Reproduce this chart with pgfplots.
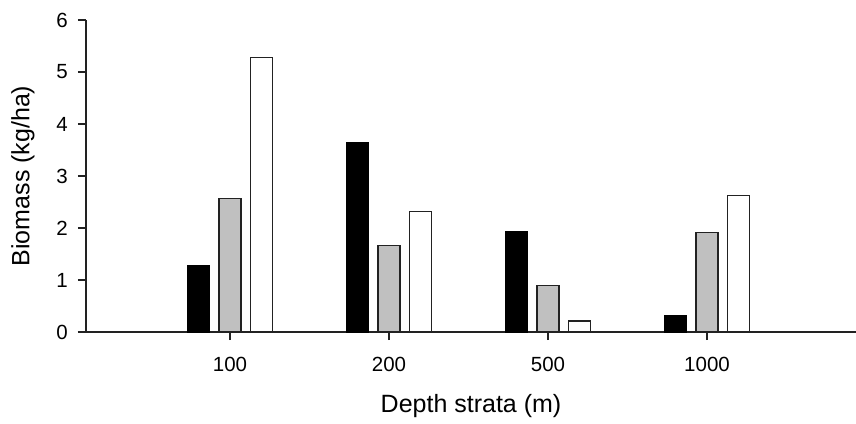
\documentclass[border=0pt]{standalone}
\usepackage{pgfplots}
\pgfplotsset{compat=1.18}
\usepackage{fontspec}
\setmainfont{Liberation Sans}
\definecolor{barsilver}{RGB}{192,192,192}
\definecolor{edge}{RGB}{34,34,34}
\begin{document}
\begin{tikzpicture}
\begin{axis}[
  scale only axis,
  width=770pt, height=312pt,
  xmin=-0.9057, xmax=3.937,
  ymin=0, ymax=6,
  axis x line=bottom, axis y line=left,
  axis line style={-, line width=1.2pt, draw=edge},
  x axis line style={-, shorten <=-8pt},
  y axis line style={-},
  xtick={0,1,2,3},
  xticklabels={100,200,500,1000},
  ytick={0,1,2,3,4,5,6},
  tick align=outside,
  major tick length=8pt,
  tick style={line width=1.1pt, draw=edge},
  /pgf/number format/assume math mode=true,
  ticklabel style={font=\fontsize{20.5}{23}\selectfont, inner sep=0pt},
  xticklabel style={anchor=north, yshift=-16.5pt},
  yticklabel style={anchor=east, xshift=-10pt},
  label style={font=\fontsize{25}{28}\selectfont},
  xlabel={Depth strata (m)},
  ylabel={Biomass (kg/ha)},
  xlabel style={at={(axis description cs:0.5,-0.237)}, anchor=center},
  ylabel style={at={(axis description cs:-0.0818,0.5)}, anchor=center},
  ybar=9.7pt,
  bar width=22pt,
  clip=false,
]
\addplot[fill=black, draw=black, line width=1.2pt] coordinates {(0,1.275) (1,3.64) (2,1.94) (3,0.32)};
\addplot[fill=barsilver, draw=edge, line width=1.2pt] coordinates {(0,2.56) (1,1.67) (2,0.89) (3,1.92)};
\addplot[fill=white, draw=edge, line width=1.2pt] coordinates {(0,5.28) (1,2.31) (2,0.21) (3,2.62)};
\coordinate (O) at (rel axis cs:0,0);
\end{axis}
\pgfresetboundingbox
\useasboundingbox ([xshift=-86pt,yshift=-91pt]O) rectangle ([xshift=770pt,yshift=332pt]O);
\end{tikzpicture}
\end{document}
